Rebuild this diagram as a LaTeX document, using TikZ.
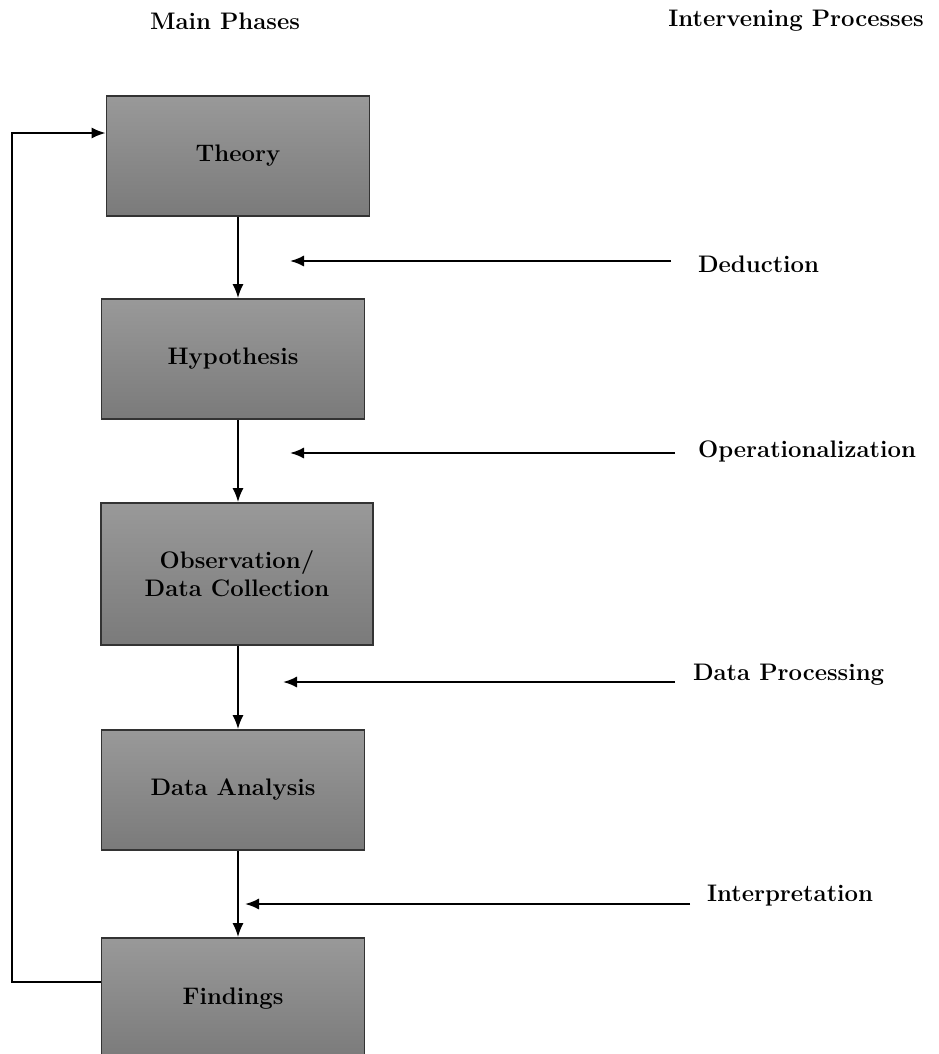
\documentclass[tikz,border=0pt]{standalone}
\usepackage{tikz}
\usetikzlibrary{arrows.meta,positioning,calc}

\begin{document}
\begin{tikzpicture}
[x=0.025cm, y=-0.025cm, line width=1.5pt,
 font=\fontsize{17}{20}\selectfont\bfseries,
 phase/.style={rectangle, draw=black!80, line width=1.2pt,
   top color=black!40, bottom color=black!52,
   minimum width=6.575cm, minimum height=3cm, align=center, inner sep=2pt},
 label/.style={anchor=west, inner sep=0pt},
 arr/.style={-{Latex[length=10pt,width=8pt]}}]
\useasboundingbox (0,0) rectangle (939,1054);

\node (hmain) at (225,21) {Main Phases};
\node (hint) at (796,21) {Intervening Processes};

\node (theory) at (238,156) [phase] {Theory};
\node (hyp) at (233,359) [phase] {Hypothesis};
\node (obs) at (237,574) [phase, minimum width=6.8cm, minimum height=3.55cm] {Observation/\\Data Collection};
\node (ana) at (233,790) [phase] {Data Analysis};
\node (find) at (233,999) [phase, minimum height=3.05cm] {Findings};

\draw[arr] (theory.south) -- (theory.south |- hyp.north);
\draw[arr] (theory.south |- hyp.south) -- (theory.south |- obs.north);
\draw[arr] (theory.south |- obs.south) -- (theory.south |- ana.north);
\draw[arr] (theory.south |- ana.south) -- (theory.south |- find.north);

\node (ded) at (697,264) [label] {Deduction};
\node (ope) at (697,451) [label] {Operationalization};
\node (dpr) at (692,675) [label] {Data Processing};
\node (int) at (706,896) [label] {Interpretation};

\coordinate (ded1) at (290,261);
\coordinate (ope1) at (290,453);
\coordinate (dpr1) at (283,682);
\coordinate (int1) at (245,904);

\draw[arr] (ded.west |- ded1) ++(-26,0) -- (ded1);
\draw[arr] (ope.west |- ope1) ++(-22,0) -- (ope1);
\draw[arr] (dpr.west |- dpr1) ++(-17,0) -- (dpr1);
\draw[arr] (int.west |- int1) ++(-16,0) -- (int1);

\coordinate (loopb) at (12,982);
\coordinate (loopt) at (12,133);
\draw[arr] (find.west |- loopb) -- (loopb) -- (loopt) -- (theory.west |- loopt);

\end{tikzpicture}
\end{document}
